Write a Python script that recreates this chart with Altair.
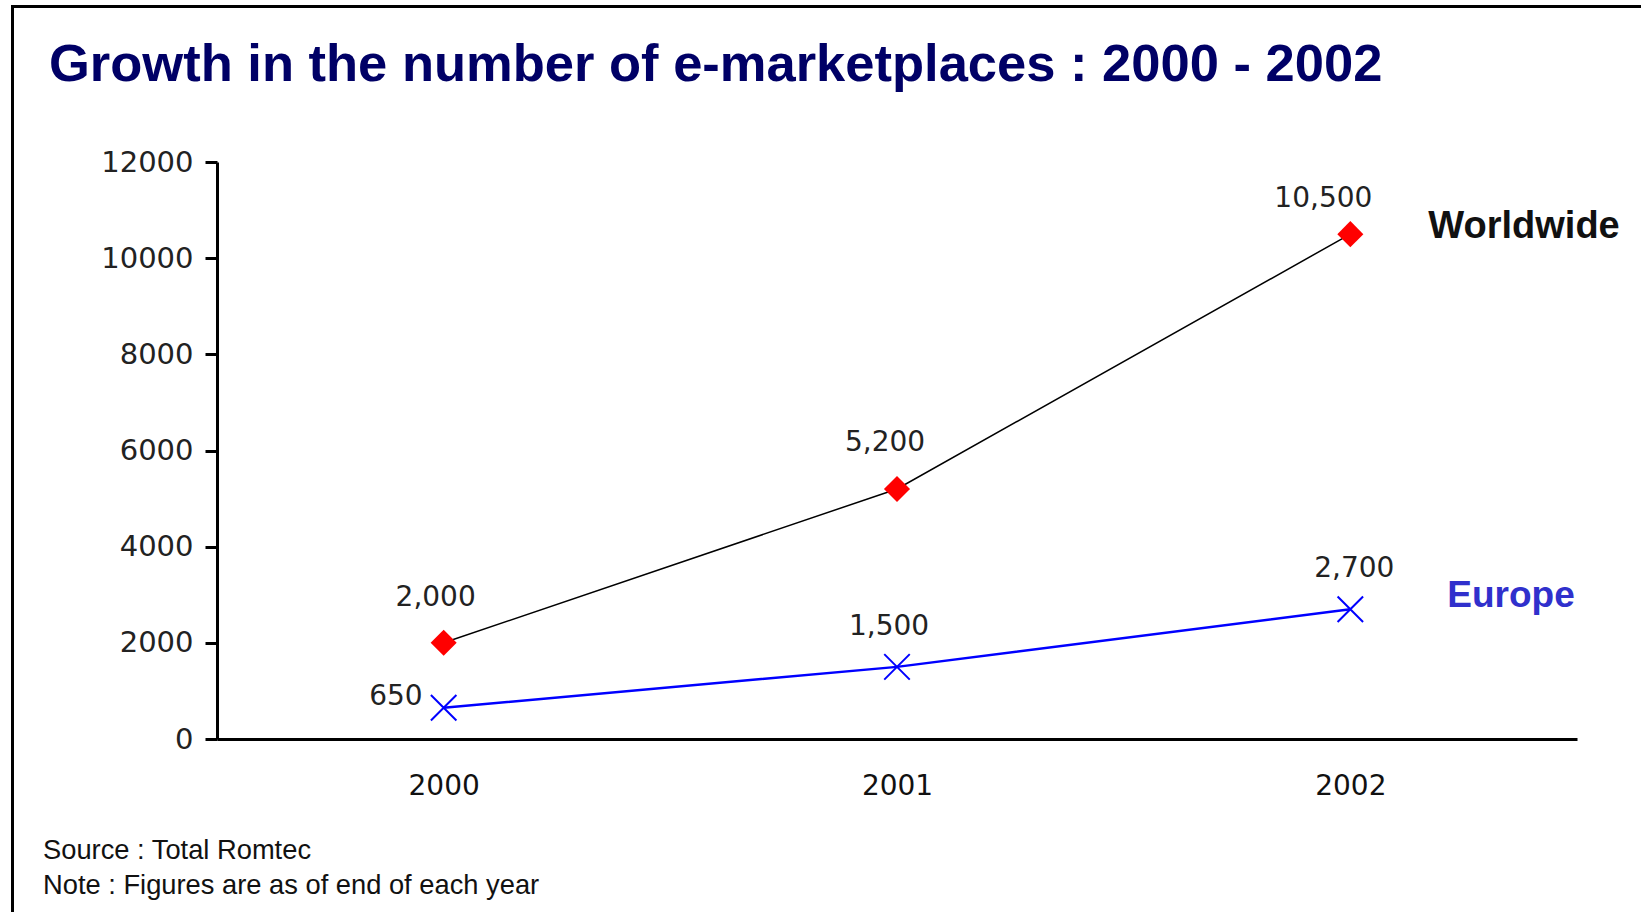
import altair as alt
import pandas as pd

# ---- data ----
years = ["2000", "2001", "2002"]
worldwide = [2000, 5200, 10500]
europe = [650, 1500, 2700]
worldwide_labels = ["2,000", "5,200", "10,500"]
europe_labels = ["650", "1,500", "2,700"]
y_ticks = [0, 2000, 4000, 6000, 8000, 10000, 12000]
series_names = ["Worldwide", "Europe"]
title_text = ["Growth in the number of e-marketplaces : 2000 - 2002"]
notes = ["Source : Total Romtec", "Note : Figures are as of end of each year"]

df = pd.DataFrame({
    "year": years * 2,
    "value": worldwide + europe,
    "label": worldwide_labels + europe_labels,
    "series": [series_names[0]] * 3 + [series_names[1]] * 3,
})

W, H = 1360, 577
PAD = {"left": 217, "top": 162, "right": 64, "bottom": 173}

x_enc = alt.X(
    "year:O",
    scale=alt.Scale(type="point", padding=0.5),
    axis=alt.Axis(
        title=None, ticks=False, labelAngle=0, labelFont="DejaVu Sans",
        labelFontSize=28, labelColor="#111", labelPadding=33,
        domainColor="black", domainWidth=3,
    ),
)
y_enc = alt.Y(
    "value:Q",
    scale=alt.Scale(domain=[0, 12000], nice=False),
    axis=alt.Axis(
        title=None, values=y_ticks, format="d", grid=False,
        tickSize=12, tickWidth=3, tickColor="black",
        domainColor="black", domainWidth=3,
        labelFont="DejaVu Sans", labelFontSize=29, labelColor="#222",
        labelPadding=12,
    ),
)

base = alt.Chart(df).encode(x=x_enc, y=y_enc)
ww = base.transform_filter(alt.datum.series == "Worldwide")
eu = base.transform_filter(alt.datum.series == "Europe")

layers = []
layers.append(ww.mark_line(color="black", strokeWidth=1.5))
layers.append(eu.mark_line(color="#0000ff", strokeWidth=2.5))
layers.append(ww.mark_point(shape="diamond", filled=True, color="#ff0000", size=680, opacity=1))
layers.append(eu.mark_point(shape="M-1,-1L1,1M-1,1L1,-1", filled=False, color="#0000ff",
                            strokeWidth=2, size=650, opacity=1))

# data labels (offsets per label)
ww_off = [(-8, -45), (-12, -46), (-27, -35)]
eu_off = [(-21, -11), (-8, -40), (4, -40)]
for i, (dx, dy) in enumerate(ww_off):
    layers.append(
        ww.transform_filter(alt.datum.year == years[i]).mark_text(
            font="DejaVu Sans", fontSize=28, color="#222", dx=dx, dy=dy, baseline="middle"
        ).encode(text="label:N")
    )
for i, (dx, dy) in enumerate(eu_off):
    align = "right" if i == 0 else "center"
    layers.append(
        eu.transform_filter(alt.datum.year == years[i]).mark_text(
            font="DejaVu Sans", fontSize=28, color="#222", dx=dx, dy=dy, baseline="middle", align=align
        ).encode(text="label:N")
    )

# series labels at the last point
layers.append(
    ww.transform_filter(alt.datum.year == years[-1]).mark_text(
        font="Liberation Sans", fontSize=38, fontWeight="bold", color="#111",
        align="left", baseline="middle", dx=78, dy=-7
    ).encode(text="series:N")
)
layers.append(
    eu.transform_filter(alt.datum.year == years[-1]).mark_text(
        font="Liberation Sans", fontSize=37, fontWeight="bold", color="#3030cc",
        align="left", baseline="middle", dx=97, dy=-13
    ).encode(text="series:N")
)

# footnotes
note_base_y = [859, 894]
for txt, yb in zip(notes, note_base_y):
    layers.append(
        alt.Chart(pd.DataFrame({"note": [txt]})).mark_text(
            font="Liberation Sans", fontSize=27.3, color="#111", align="left", baseline="alphabetic"
        ).encode(
            x=alt.value(43 - PAD["left"]),
            y=alt.value(yb - PAD["top"]),
            text="note:N",
        )
    )

# title
layers.append(
    alt.Chart(pd.DataFrame({"t": title_text})).mark_text(
        font="Liberation Sans", fontSize=52.5, fontWeight="bold", color="#000066",
        align="left", baseline="alphabetic"
    ).encode(
        x=alt.value(49 - PAD["left"]),
        y=alt.value(81 - PAD["top"]),
        text="t:N",
    )
)

# frame
frame = alt.Chart(pd.DataFrame({"a": [0]})).mark_rect(
    filled=False, stroke="black", strokeWidth=3
).encode(
    x=alt.value(12.5 - PAD["left"]), x2=alt.value(1800),
    y=alt.value(6.5 - PAD["top"]), y2=alt.value(1200),
)
layers.append(frame)

chart = alt.layer(*layers).properties(
    width=W, height=H,
    autosize=alt.AutoSizeParams(type="none"),
    padding=PAD,
    background="white",
).configure_view(stroke=None)

chart.save("out.html", embed_options={"renderer": "svg", "actions": False})
